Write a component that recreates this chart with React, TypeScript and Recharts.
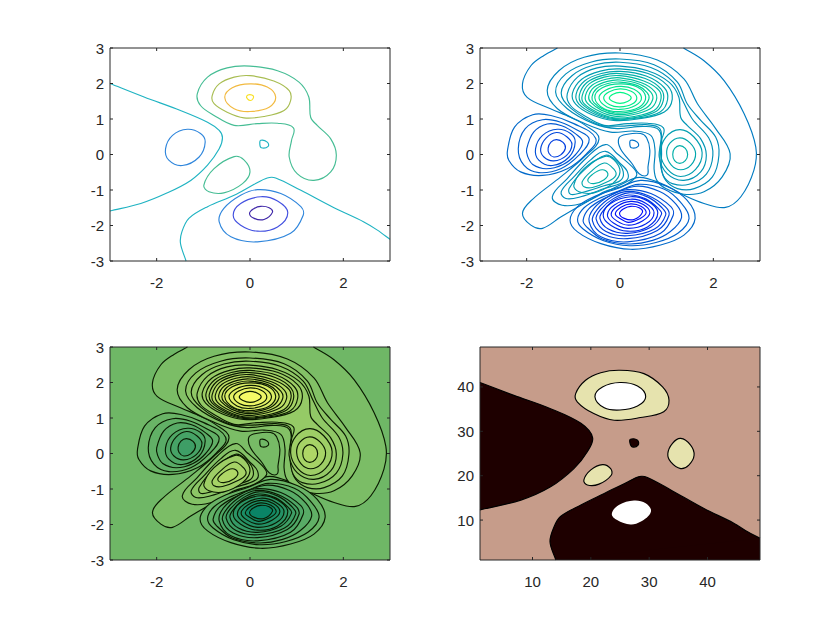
import { ScatterChart, Scatter, XAxis, YAxis, ReferenceArea } from 'recharts';

type Pt = number[];

const peakTicks = [-2, 0, 2];
const peakYTicks = [-3, -2, -1, 0, 1, 2, 3];
const indexTicks = [10, 20, 30, 40];

// contour lines, in data units
const openLeft: Pt[] = [[-3, 2], [-2.27, 1.62], [-1.49, 1.24], [-0.91, 0.91], [-0.66, 0.68], [-0.59, 0.47], [-0.66, 0.16], [-0.91, -0.3], [-1.27, -0.73], [-1.77, -1.08], [-2.34, -1.38], [-3, -1.59]];
const openBottom: Pt[] = [[-1.37, -3], [-1.49, -2.5], [-1.46, -2.18], [-1.31, -1.8], [-0.91, -1.47], [-0.34, -1.15], [0.09, -0.84], [0.37, -0.66], [0.55, -0.66], [1.09, -1.01], [1.8, -1.5], [2.44, -1.9], [2.73, -2.13], [3, -2.39]];

const outer: Pt[] = [[1.36, 3], [1.8, 2.64], [2.23, 2.08], [2.66, 1.15], [2.91, 0.21], [2.87, -0.44], [2.59, -1.19], [2.26, -1.49], [1.8, -1.38], [1.37, -1.15], [1.01, -0.89], [0.59, -0.68], [0.36, -0.65], [0.09, -0.8], [-0.34, -1.08], [-0.77, -1.38], [-1.27, -1.76], [-1.66, -2.08], [-1.91, -1.99], [-2.09, -1.66], [-1.88, -1.27], [-1.27, -0.63], [-0.77, -0.07], [-0.45, 0.44], [-0.74, 0.82], [-1.06, 1.05], [-1.49, 1.29], [-1.99, 1.61], [-2.09, 1.99], [-1.91, 2.5], [-1.63, 2.79], [-1.34, 3]];
const ridge1: Pt[] = [[0, 2.86], [0.8, 2.66], [1.37, 2.13], [1.66, 1.43], [2.05, 0.73], [2.36, 0.02], [2.19, -0.63], [1.8, -1.05], [1.37, -1.12], [0.98, -0.96], [0.79, -0.73], [0.73, -0.4], [0.75, 0.12], [0.66, 0.54], [0.3, 0.66], [-0.2, 0.63], [-0.77, 0.88], [-1.34, 1.29], [-1.56, 1.8], [-1.31, 2.36], [-0.77, 2.74], [0, 2.86]];
const ridge2: Pt[] = [[0, 2.69], [0.73, 2.53], [1.23, 2.04], [1.44, 1.43], [1.73, 0.96], [2.05, 0.49], [2.12, -0.02], [1.98, -0.63], [1.59, -0.96], [1.23, -0.96], [0.98, -0.73], [0.89, -0.4], [0.89, 0.12], [0.84, 0.68], [0.51, 0.79], [-0.06, 0.73], [-0.56, 0.87], [-1.13, 1.29], [-1.38, 1.76], [-1.16, 2.27], [-0.63, 2.6], [0, 2.69]];
const ridgeMid: Pt[] = [[0, 2.6], [0.66, 2.45], [1.14, 2.04], [1.35, 1.5], [1.55, 1], [1.9, 0.47], [1.99, -0.02], [1.85, -0.55], [1.48, -0.84], [1.12, -0.82], [0.93, -0.6], [0.86, -0.2], [0.86, 0.2], [0.86, 0.72], [0.55, 0.84], [0.05, 0.8], [-0.45, 0.84], [-1.05, 1.3], [-1.26, 1.73], [-1.03, 2.22], [-0.56, 2.52], [0, 2.6]];
const ridge3: Pt[] = [[0, 2.49], [0.59, 2.36], [1.05, 2.04], [1.26, 1.62], [1.3, 1.05], [1.44, 0.82], [1.73, 0.44], [1.85, -0.02], [1.73, -0.49], [1.37, -0.73], [1.01, -0.54], [0.84, -0.07], [0.89, 0.4], [0.93, 0.75], [0.59, 0.88], [0.16, 0.87], [-0.34, 0.82], [-0.77, 1.1], [-1.06, 1.38], [-1.13, 1.71], [-0.91, 2.18], [-0.49, 2.44], [0, 2.49]];

const top1: Pt[] = [[0, 2.41], [0.6, 2.28], [1.02, 1.94], [1.12, 1.56], [0.95, 1.2], [0.38, 1], [-0.14, 0.96], [-0.6, 1.12], [-0.95, 1.42], [-1.02, 1.72], [-0.82, 2.12], [-0.42, 2.35], [0, 2.41]];
const top2: Pt[] = [[0, 2.34], [0.56, 2.21], [0.95, 1.88], [1.02, 1.55], [0.86, 1.2], [0.35, 1.02], [-0.14, 0.99], [-0.56, 1.15], [-0.88, 1.42], [-0.94, 1.7], [-0.76, 2.07], [-0.4, 2.28], [0, 2.34]];
const top3: Pt[] = [[0, 2.28], [0.54, 2.14], [0.88, 1.84], [0.93, 1.53], [0.78, 1.22], [0.32, 1.04], [-0.13, 1.01], [-0.52, 1.17], [-0.82, 1.43], [-0.87, 1.68], [-0.71, 2.03], [-0.37, 2.23], [0, 2.28]];
const top4: Pt[] = [[0, 2.22], [0.51, 2.07], [0.84, 1.8], [0.87, 1.52], [0.73, 1.24], [0.3, 1.07], [-0.13, 1.03], [-0.49, 1.19], [-0.77, 1.43], [-0.81, 1.66], [-0.66, 1.99], [-0.34, 2.18], [0, 2.22]];
const top5: Pt[] = [[0, 2.16], [0.46, 2.02], [0.74, 1.78], [0.78, 1.53], [0.64, 1.28], [0.27, 1.12], [-0.12, 1.08], [-0.44, 1.22], [-0.7, 1.45], [-0.74, 1.66], [-0.6, 1.95], [-0.3, 2.12], [0, 2.16]];
const top6: Pt[] = [[0, 2.1], [0.42, 1.98], [0.66, 1.76], [0.7, 1.55], [0.56, 1.31], [0.24, 1.16], [-0.1, 1.13], [-0.4, 1.25], [-0.62, 1.46], [-0.67, 1.64], [-0.55, 1.9], [-0.27, 2.06], [0, 2.1]];
const top7: Pt[] = [[0, 2.04], [0.38, 1.94], [0.58, 1.74], [0.62, 1.57], [0.49, 1.34], [0.2, 1.2], [-0.1, 1.17], [-0.37, 1.28], [-0.56, 1.46], [-0.6, 1.62], [-0.5, 1.86], [-0.26, 2], [0, 2.04]];
const top8: Pt[] = [[0, 1.99], [0.37, 1.9], [0.55, 1.62], [0.41, 1.33], [0, 1.21], [-0.34, 1.29], [-0.54, 1.6], [-0.38, 1.88], [0, 1.99]];
const top9: Pt[] = [[0, 1.92], [0.3, 1.84], [0.46, 1.61], [0.33, 1.38], [0, 1.27], [-0.28, 1.34], [-0.45, 1.59], [-0.31, 1.81], [0, 1.92]];
const top10: Pt[] = [[0, 1.85], [0.24, 1.78], [0.36, 1.6], [0.26, 1.42], [0, 1.34], [-0.22, 1.4], [-0.35, 1.59], [-0.24, 1.76], [0, 1.85]];
const top11: Pt[] = [[0, 1.75], [0.16, 1.7], [0.24, 1.6], [0.16, 1.49], [0, 1.44], [-0.15, 1.49], [-0.23, 1.59], [-0.15, 1.7], [0, 1.75]];
const topTip: Pt[] = [[-0.07, 1.65], [0.07, 1.65], [0.01, 1.52], [-0.07, 1.65]];

const right1: Pt[] = [[1.28, 0.7], [1.58, 0.5], [1.76, 0.05], [1.62, -0.42], [1.3, -0.62], [1.02, -0.42], [0.87, 0.02], [0.98, 0.48], [1.28, 0.7]];
const right2: Pt[] = [[1.28, 0.47], [1.5, 0.33], [1.62, 0.03], [1.52, -0.3], [1.3, -0.43], [1.1, -0.3], [1, 0.02], [1.07, 0.32], [1.28, 0.47]];
const right3: Pt[] = [[1.28, 0.25], [1.4, 0.17], [1.45, 0], [1.4, -0.17], [1.28, -0.25], [1.17, -0.17], [1.13, 0], [1.17, 0.17], [1.28, 0.25]];

const dipOuter: Pt[] = [[-0.02, 0.47], [0.16, 0.57], [0.44, 0.59], [0.57, 0.47], [0.64, 0.12], [0.6, -0.35], [0.58, -0.58], [0.41, -0.54], [0.26, -0.26], [0.01, 0.16], [-0.02, 0.47]];
const dipInner: Pt[] = [[0.23, 0.4], [0.37, 0.35], [0.39, 0.23], [0.24, 0.19], [0.21, 0.3], [0.23, 0.4]];

const lower6: Pt[] = [[-0.31, 0.28], [-0.06, 0.02], [0.3, -0.4], [0.35, -0.61], [0.09, -0.87], [-0.34, -1.05], [-0.77, -1.36], [-1.24, -1.43], [-1.45, -1.19], [-1.13, -0.68], [-0.7, -0.07], [-0.31, 0.28]];
const lower5: Pt[] = [[-0.31, 0.09], [0.01, -0.26], [0.16, -0.49], [0.14, -0.73], [-0.34, -0.96], [-0.84, -1.19], [-1.16, -1.24], [-1.26, -1.05], [-0.99, -0.63], [-0.63, -0.15], [-0.31, 0.09]];
const lower4: Pt[] = [[-0.31, -0.02], [-0.06, -0.2], [0.07, -0.49], [0.01, -0.73], [-0.34, -0.88], [-0.84, -1.08], [-1.06, -1.12], [-1.09, -0.96], [-0.77, -0.44], [-0.31, -0.02]];
const lower3: Pt[] = [[-0.34, -0.06], [-0.13, -0.15], [0, -0.49], [-0.16, -0.82], [-0.56, -1.08], [-0.88, -1.05], [-0.99, -0.87], [-0.77, -0.4], [-0.34, -0.06]];
const lower2: Pt[] = [[-0.34, -0.24], [-0.14, -0.4], [-0.09, -0.59], [-0.27, -0.77], [-0.59, -0.93], [-0.77, -0.91], [-0.81, -0.77], [-0.63, -0.49], [-0.34, -0.24]];
const lower1: Pt[] = [[-0.38, -0.43], [-0.26, -0.54], [-0.34, -0.71], [-0.56, -0.82], [-0.69, -0.74], [-0.59, -0.56], [-0.38, -0.43]];

const left6: Pt[] = [[-2.41, 0.12], [-2.26, 0.77], [-1.87, 1.12], [-1.48, 1.1], [-0.99, 0.87], [-0.52, 0.45], [-0.72, 0.02], [-1.13, -0.4], [-1.66, -0.59], [-2.13, -0.49], [-2.38, -0.17], [-2.41, 0.12]];
const left5: Pt[] = [[-2.18, 0.16], [-2.03, 0.73], [-1.66, 0.98], [-1.27, 0.91], [-0.91, 0.68], [-0.66, 0.43], [-0.88, -0.02], [-1.27, -0.4], [-1.74, -0.51], [-2.06, -0.3], [-2.18, 0.16]];
const left4: Pt[] = [[-2, 0.16], [-1.85, 0.63], [-1.56, 0.86], [-1.25, 0.81], [-0.95, 0.58], [-0.8, 0.35], [-0.95, 0], [-1.22, -0.28], [-1.58, -0.4], [-1.87, -0.28], [-1.98, -0.05], [-2, 0.16]];
const left3: Pt[] = [[-1.34, 0.71], [-1.06, 0.59], [-0.96, 0.35], [-1.09, -0.07], [-1.45, -0.31], [-1.74, -0.16], [-1.81, 0.16], [-1.66, 0.54], [-1.34, 0.71]];
const left2: Pt[] = [[-1.36, 0.62], [-1.14, 0.5], [-1.03, 0.28], [-1.15, -0.03], [-1.42, -0.18], [-1.63, -0.07], [-1.7, 0.16], [-1.58, 0.47], [-1.36, 0.62]];
const left1: Pt[] = [[-1.36, 0.42], [-1.22, 0.34], [-1.17, 0.18], [-1.27, -0.01], [-1.42, -0.07], [-1.52, 0.03], [-1.54, 0.18], [-1.48, 0.35], [-1.36, 0.42]];

const bottom1: Pt[] = [[0.44, -0.73], [1.01, -0.9], [1.44, -1.29], [1.61, -1.8], [1.37, -2.27], [0.87, -2.55], [0.23, -2.67], [-0.41, -2.51], [-0.91, -2.18], [-1.07, -1.85], [-0.91, -1.47], [-0.56, -1.19], [-0.05, -0.96], [0.44, -0.73]];
const bottom2: Pt[] = [[0.39, -0.84], [0.95, -0.98], [1.3, -1.35], [1.48, -1.8], [1.24, -2.22], [0.77, -2.48], [0.2, -2.57], [-0.35, -2.43], [-0.79, -2.1], [-0.91, -1.83], [-0.77, -1.5], [-0.45, -1.24], [-0.03, -1.03], [0.39, -0.84]];
const bottom3: Pt[] = [[0.3, -0.9], [0.85, -1.04], [1.2, -1.4], [1.32, -1.77], [1.08, -2.17], [0.7, -2.42], [0.18, -2.52], [-0.38, -2.38], [-0.72, -2.03], [-0.79, -1.85], [-0.66, -1.52], [-0.35, -1.25], [0.3, -0.9]];
const bottom4: Pt[] = [[0.16, -0.99], [0.66, -1.1], [1.09, -1.47], [1.14, -1.71], [0.87, -2.22], [0.16, -2.46], [-0.41, -2.32], [-0.66, -1.9], [-0.56, -1.52], [-0.2, -1.15], [0.16, -0.99]];
const bottom5: Pt[] = [[0.16, -1.04], [0.61, -1.16], [0.97, -1.47], [1.05, -1.71], [0.8, -2.14], [0.16, -2.37], [-0.36, -2.24], [-0.59, -1.87], [-0.49, -1.55], [-0.18, -1.2], [0.16, -1.04]];
const bottom6: Pt[] = [[0.18, -1.08], [0.6, -1.2], [0.9, -1.5], [0.98, -1.7], [0.74, -2.1], [0.16, -2.29], [-0.3, -2.17], [-0.51, -1.83], [-0.42, -1.55], [-0.15, -1.25], [0.18, -1.08]];
const bottom7: Pt[] = [[0.2, -1.14], [0.55, -1.25], [0.82, -1.52], [0.89, -1.68], [0.66, -2.05], [0.16, -2.22], [-0.25, -2.1], [-0.43, -1.8], [-0.34, -1.55], [-0.12, -1.28], [0.2, -1.14]];
const bottom8: Pt[] = [[0.23, -1.19], [0.59, -1.31], [0.81, -1.64], [0.59, -2.04], [0.16, -2.16], [-0.2, -1.99], [-0.36, -1.71], [-0.2, -1.38], [0.23, -1.19]];
const bottom9: Pt[] = [[0.23, -1.26], [0.55, -1.37], [0.73, -1.64], [0.55, -1.96], [0.16, -2.08], [-0.14, -1.93], [-0.27, -1.7], [-0.12, -1.42], [0.23, -1.26]];
const bottom10: Pt[] = [[0.23, -1.32], [0.5, -1.41], [0.64, -1.64], [0.48, -1.87], [0.18, -1.99], [-0.07, -1.87], [-0.19, -1.68], [-0.05, -1.45], [0.23, -1.32]];
const bottom11: Pt[] = [[0.23, -1.39], [0.45, -1.46], [0.56, -1.64], [0.42, -1.81], [0.18, -1.91], [0.01, -1.81], [-0.1, -1.67], [0.03, -1.48], [0.23, -1.39]];
const bottom12: Pt[] = [[0.23, -1.46], [0.41, -1.5], [0.48, -1.63], [0.3, -1.83], [0.09, -1.8], [-0.01, -1.66], [0.09, -1.52], [0.23, -1.46]];

// panel 4 regions, in matrix index units
const darkLeft: Pt[] = [[1, 41], [6.8, 38.1], [13.1, 35.1], [18.3, 31.8], [20.3, 28.6], [19.4, 25.4], [17.1, 21.6], [13.1, 17.5], [8, 14.5], [1, 12.3]];
const darkBottom: Pt[] = [[14, 1], [13, 5.1], [13.7, 8.5], [14.8, 10.8], [18.3, 13.4], [22.3, 16], [26.3, 18.6], [28.3, 19.8], [29.7, 19.6], [33.7, 16.8], [39.4, 12.6], [44.5, 9.3], [46.8, 7.4], [49, 5.9]];
const darkCorner: Pt[] = [[14, 1], [30, 15], [49, 5.9], [49, 1]];
const darkDot: Pt[] = [[26.8, 28.2], [28, 28], [28.1, 26.9], [27.1, 26.5], [26.7, 27.4], [26.8, 28.2]];
const paleTop: Pt[] = [[25, 43.75], [29.1, 43], [32.3, 40], [33.4, 37], [32.5, 34.4], [28.5, 33.1], [24, 32.5], [20.5, 34], [17.7, 36.6], [17.4, 38.5], [19.1, 41.5], [21.7, 43.2], [25, 43.75]];
const whiteTop: Pt[] = [[25, 41], [28, 40.2], [29.4, 37.8], [28, 35.7], [25, 34.8], [22.3, 35.3], [20.7, 37.8], [22, 40], [25, 41]];
const paleRight: Pt[] = [[35.4, 28.4], [37.1, 26.9], [37.7, 24.6], [36.8, 22.4], [35.4, 21.6], [33.7, 23.1], [33.2, 25], [34, 27.3], [35.4, 28.4]];
const paleLower: Pt[] = [[22, 22.5], [23.4, 21.6], [23.5, 20.1], [21.4, 18.1], [19.4, 17.9], [18.8, 19], [20, 21.3], [22, 22.5]];
const whiteBottom: Pt[] = [[27.4, 14.4], [29.4, 13.8], [30.3, 11.9], [28.5, 9.6], [26.8, 9], [24.5, 10], [23.6, 11.4], [24.8, 13.4], [27.4, 14.4]];

// [contour, level], outer rings first so that the fill order works
const sparseContours: [Pt[], number][] = [
  [openLeft, 0], [openBottom, 0], [dipInner, 0], [ridge3, 2], [lower3, 2], [top4, 4], [top8, 6], [topTip, 8],
  [left3, -2], [bottom4, -2], [bottom8, -4], [bottom12, -6],
];
const denseContours: [Pt[], number][] = [
  [outer, 0.5], [ridge1, 1], [ridge2, 1.5], [ridgeMid, 1.75], [ridge3, 2],
  [top1, 2.5], [top2, 3], [top3, 3.5], [top4, 4], [top5, 4.5], [top6, 5], [top7, 5.5], [top8, 6], [top9, 6.5], [top10, 7], [top11, 7.5],
  [right1, 2.5], [right2, 3], [right3, 3.5],
  [dipOuter, 0.3], [dipInner, -0.1],
  [lower6, 1], [lower5, 1.5], [lower4, 2], [lower3, 2.5], [lower2, 3], [lower1, 3.5],
  [left6, -0.5], [left5, -1], [left4, -1.5], [left3, -2], [left2, -2.5], [left1, -3],
  [bottom1, -0.5], [bottom2, -1], [bottom3, -1.5], [bottom4, -2], [bottom5, -2.5], [bottom6, -3], [bottom7, -3.5], [bottom8, -4], [bottom9, -4.5], [bottom10, -5], [bottom11, -5.5], [bottom12, -6],
];

const PARULA: Record<string, string> = {
  '-6': '#3e26a8', '-4': '#4250e0', '-2': '#2f86dc', '0': '#1fb3c2', '2': '#45bd94', '4': '#a8bd52', '6': '#f2ba40', '8': '#f9e020',
};

const levelT = (level: number) => (level + 6.55) / 14.65;
const winter = (level: number) => {
  const t = levelT(level);
  return `rgb(0,${Math.round(255 * t)},${Math.round(255 * (1 - t / 2))})`;
};
const summer = (level: number) => {
  const t = levelT(level);
  return `rgb(${Math.round(255 * t)},${Math.round(255 * (0.5 + t / 2))},102)`;
};

const toPoints = (c: Pt[]) => c.map(([x, y]) => ({ x, y }));
const noDot = () => null;

// smooth path through the points the Scatter scaled for us, wrapping when the ring is closed
function smoothPath(pts: { x: number; y: number }[]) {
  const closed = pts[0].x === pts[pts.length - 1].x && pts[0].y === pts[pts.length - 1].y;
  const n = pts.length;
  const at = (i: number) => {
    if (closed) return pts[((i % (n - 1)) + (n - 1)) % (n - 1)];
    return pts[Math.max(0, Math.min(n - 1, i))];
  };
  // unit tangent at a point, so uneven spacing does not overshoot
  const tangent = (i: number) => {
    const dx = at(i + 1).x - at(i - 1).x;
    const dy = at(i + 1).y - at(i - 1).y;
    const len = Math.hypot(dx, dy) || 1;
    return { x: dx / len, y: dy / len };
  };
  let d = `M${pts[0].x},${pts[0].y}`;
  for (let i = 0; i < n - 1; i++) {
    const p1 = at(i);
    const p2 = at(i + 1);
    const t1 = tangent(i);
    const t2 = tangent(i + 1);
    const k = Math.hypot(p2.x - p1.x, p2.y - p1.y) / 3;
    d += `C${p1.x + t1.x * k},${p1.y + t1.y * k},${p2.x - t2.x * k},${p2.y - t2.y * k},${p2.x},${p2.y}`;
  }
  return d;
}

const PLOT_W = 280;
const PLOT_H = 213;
const AXIS_COLOR = '#262626';
const FONT = '"Liberation Sans", Arial, sans-serif';

function XTick({ x, y, payload }: any) {
  return (
    <g>
      <line x1={x} x2={x} y1={y} y2={y - 3} stroke={AXIS_COLOR} />
      <line x1={x} x2={x} y1={y - PLOT_H} y2={y - PLOT_H + 3} stroke={AXIS_COLOR} />
      <text x={x} y={y + 27} textAnchor="middle" fontSize={15} fontFamily={FONT} fill={AXIS_COLOR}>{payload.value}</text>
    </g>
  );
}

function YTick({ x, y, payload }: any) {
  return (
    <g>
      <line x1={x} x2={x + 3} y1={y} y2={y} stroke={AXIS_COLOR} />
      <line x1={x + PLOT_W} x2={x + PLOT_W - 3} y1={y} y2={y} stroke={AXIS_COLOR} />
      <text x={x - 6} y={y + 5.5} textAnchor="end" fontSize={15} fontFamily={FONT} fill={AXIS_COLOR}>{payload.value}</text>
    </g>
  );
}

function contourLine({ points, stroke, fill, straight, width = 1.15 }: any) {
  const renderLine = (p: any) => {
    const pts = p.points.map((q: any) => ({ x: q.cx ?? q.x, y: q.cy ?? q.y }));
    const d = straight ? 'M' + pts.map((q: any) => `${q.x},${q.y}`).join('L') : smoothPath(pts);
    return <path d={d} stroke={stroke} strokeWidth={width} fill={fill ?? 'none'} strokeLinejoin="round" />;
  };
  return <Scatter data={toPoints(points)} shape={noDot} line={renderLine} isAnimationActive={false} />;
}

function Panel({ left, top, domain, xTicks, yTicks, background, children }: any) {
  const [lo, hi] = domain;
  const frame: Pt[] = [[lo, lo], [hi, lo], [hi, hi], [lo, hi], [lo, lo]];
  return (
    <div style={{ position: 'absolute', left: left - 40, top: top - 10 }}>
      <ScatterChart width={PLOT_W + 50} height={PLOT_H + 50} margin={{ top: 10, right: 10, bottom: 0, left: 0 }}>
        <XAxis type="number" dataKey="x" domain={domain} ticks={xTicks} interval={0} height={40} axisLine={false} tickLine={false} tickSize={0} tickMargin={0} tick={XTick} />
        <YAxis type="number" dataKey="y" domain={domain} ticks={yTicks} interval={0} width={40} axisLine={false} tickLine={false} tickSize={0} tickMargin={0} tick={YTick} />
        {background && <ReferenceArea x1={lo} x2={hi} y1={lo} y2={hi} fill={background} fillOpacity={1} stroke="none" />}
        {children}
        {contourLine({ points: frame, stroke: AXIS_COLOR, straight: true, width: 1 })}
      </ScatterChart>
    </div>
  );
}

export default function App() {
  return (
    <div style={{ position: 'absolute', left: 0, top: 0, width: 840, height: 630, background: '#fff' }}>
      <Panel left={109.5} top={47.5} domain={[-3, 3]} xTicks={peakTicks} yTicks={peakYTicks}>
        {sparseContours.map(([c, level]) => contourLine({ points: c, stroke: PARULA[level] }))}
      </Panel>
      <Panel left={479.5} top={47.5} domain={[-3, 3]} xTicks={peakTicks} yTicks={peakYTicks}>
        {denseContours.map(([c, level]) => contourLine({ points: c, stroke: winter(level) }))}
      </Panel>
      <Panel left={109.5} top={346.5} domain={[-3, 3]} xTicks={peakTicks} yTicks={peakYTicks} background={summer(-0.2)}>
        {denseContours.map(([c, level]) => contourLine({ points: c, stroke: '#0a1a00', fill: summer(level) }))}
      </Panel>
      <Panel left={479.5} top={346.5} domain={[1, 49]} xTicks={indexTicks} yTicks={indexTicks} background="#c69c8a">
        {contourLine({ points: darkCorner, stroke: 'none', fill: '#1e0000', straight: true })}
        {contourLine({ points: darkBottom, stroke: '#000', fill: '#1e0000' })}
        {contourLine({ points: darkLeft, stroke: '#000', fill: '#1e0000' })}
        {contourLine({ points: paleTop, stroke: '#000', fill: '#e6e3ae' })}
        {contourLine({ points: whiteTop, stroke: '#000', fill: '#fff' })}
        {contourLine({ points: darkDot, stroke: '#000', fill: '#1e0000' })}
        {contourLine({ points: paleRight, stroke: '#000', fill: '#e6e3ae' })}
        {contourLine({ points: paleLower, stroke: '#000', fill: '#e6e3ae' })}
        {contourLine({ points: whiteBottom, stroke: 'none', fill: '#fff' })}
      </Panel>
    </div>
  );
}
